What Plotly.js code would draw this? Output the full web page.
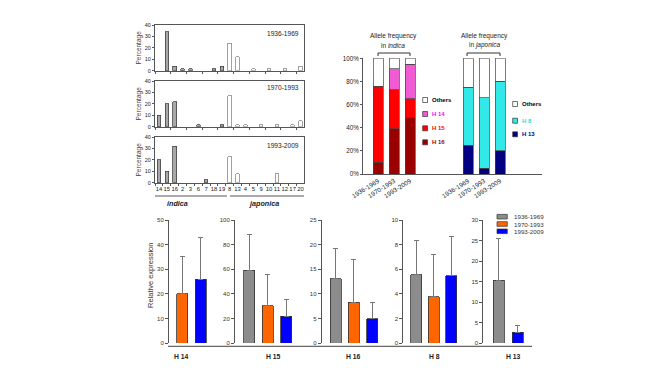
<!DOCTYPE html>
<html><head><meta charset="utf-8">
<script src="https://cdn.plot.ly/plotly-3.0.1.min.js"></script>
<style>html,body{margin:0;padding:0;background:#fff}#chart{width:661px;height:371px}</style>
</head><body><div id="chart"></div>
<script>
// ---------------- data ----------------
const haplotypes = ['14','15','16','2','3','6','7','18','19','8','13','4','5','9','10','11','12','17','20'];
const indicaCount = 9;
const pct1936 = [0,34,4,1.5,1.5,0,0,1.5,4,24,12,0,1.5,0,1.5,0,1.5,0,4];
const pct1970 = [10,20,22,0,0,1.5,0,0,1.5,27,1.5,1.5,0,1.5,0,1.5,0,1.5,5];
const pct1993 = [20,10,32,0,0,0,2.5,0,0,22.5,8,0,0,0,0,8,0,0,0];
const periods = ['1936-1969','1970-1993','1993-2009'];
const groupNames = ['indica','japonica'];

const indicaLabels = ['H 16','H 15','H 14','Others'];
const indicaH16 = [10,39,49];
const indicaH15 = [66,34,16];
const indicaH14 = [0,18,30];
const indicaOthers = [24,9,5];
const japonicaLabels = ['H 13','H 8','Others'];
const japonicaH13 = [25,5,20];
const japonicaH8 = [50,61,60];
const japonicaOthers = [25,34,20];

const exprGenes = ['H 14','H 15','H 16','H 8','H 13'];
const exprPeriods = [['1970-1993','1993-2009'], periods, periods, periods, ['1936-1969','1993-2009']];
const exprMean = [[20,26],[59,30.3,21.6],[13.1,8.3,4.9],[5.55,3.75,5.45],[15.3,2.6]];
const exprSD   = [[15.3,16.8],[29.4,25.6,13.5],[6.1,8.6,3.4],[2.75,3.45,3.2],[10.2,1.7]];
const exprMax  = [50,100,25,10,30];
const exprDtick= [10,20,5,2,5];

// ---------------- styles / geometry ----------------
const W=661,H=371;
const fx = p => p/W;
const fy = p => 1 - p/H;
const FONT = 'Liberation Sans, Arial, sans-serif';
const AX = '#555';
const periodColors = ['#8c8c8c','#ff6600','#0000ff'];
const indicaColors = ['#990000','#ff0000','#f05ad2','#ffffff'];
const indicaText = ['#990000','#ff0000','#ff00ff','#000000'];
const japonicaColors = ['#000080','#33e8e8','#ffffff'];
const japonicaText = ['#000080','#22dddd','#000000'];

const traces = [];
const layout = {
  width:W, height:H, margin:{l:0,r:0,t:0,b:0},
  paper_bgcolor:'#fff', plot_bgcolor:'rgba(0,0,0,0)',
  showlegend:false, barmode:'stack',
  font:{family:FONT, color:'#222'},
  shapes:[], annotations:[]
};
function ann(text,x,y,opts){
  layout.annotations.push(Object.assign({text:text, x:fx(x), y:fy(y), xref:'paper', yref:'paper',
    showarrow:false, font:{size:6.5,color:'#222',family:FONT}, xanchor:'center', yanchor:'middle'}, opts||{}));
}
function line(x0,y0,x1,y1,color,w){
  layout.shapes.push({type:'line', xref:'paper', yref:'paper', x0:fx(x0), y0:fy(y0), x1:fx(x1), y1:fy(y1), line:{color:color||AX, width:w||1}});
}
function rect(x0,y0,x1,y1,fill){
  layout.shapes.push({type:'rect', xref:'paper', yref:'paper', x0:fx(x0), y0:fy(y0), x1:fx(x1), y1:fy(y1), fillcolor:fill, line:{color:'#333', width:0.7}});
}
const nz = a => a.map(v => v>0 ? v : null);

// ---------------- top-left haplotype panels ----------------
const haploSeries = [pct1936, pct1970, pct1993];
const haploYDom = [[25,70.7],[81,126.7],[137,182.7]];
haploSeries.forEach((vals,k)=>{
  const n = k+1, xa = n===1?'x':'x'+n, ya = n===1?'y':'y'+n;
  traces.push({type:'bar', x:haplotypes, y:nz(vals), xaxis:xa, yaxis:ya, width:0.45, hoverinfo:'skip',
    marker:{color:haplotypes.map((h,i)=> i<indicaCount?'#a8a8a8':'#ffffff'),
            line:{color:haplotypes.map((h,i)=> i<indicaCount?'#444':'#888'), width:0.8}}});
  layout['xaxis'+(n===1?'':n)] = {domain:[fx(155),fx(303.5)], anchor:ya, type:'category',
    categoryorder:'array', categoryarray:haplotypes, range:[-0.51,18.38],
    showline:true, linecolor:AX, linewidth:1, mirror:true, ticks:'outside', tickson:'boundaries',
    ticklen:2, tickcolor:AX, showticklabels:k===2, tickangle:0, tickfont:{size:5.9,color:'#222'},
    showgrid:false, zeroline:false, fixedrange:true};
  layout['yaxis'+(n===1?'':n)] = {domain:[fy(haploYDom[k][1]), fy(haploYDom[k][0])], anchor:xa,
    range:[0,40], dtick:10, showline:true, linecolor:AX, mirror:true, ticks:'outside', ticklen:2,
    tickcolor:AX, tickfont:{size:5.5,color:'#222'}, showgrid:false, zeroline:false,
    title:{text:'Percentage', font:{size:6.5,color:'#444'}, standoff:2}};
  ann(periods[k], 301, [33.3,87.7,145.3][k], {xanchor:'right', font:{size:6.6,color:'#222',family:FONT}});
});
line(155,196,227,196,'#555',1);
line(230,196,304,196,'#555',1);
ann('<b><i>'+groupNames[0]+'</i></b>', 177, 203, {font:{size:7.2,color:'#222',family:FONT}});
ann('<b><i>'+groupNames[1]+'</i></b>', 264, 203, {font:{size:7.2,color:'#222',family:FONT}});

// ---------------- stacked allele frequency ----------------
const indicaSeries = [indicaH16, indicaH15, indicaH14, indicaOthers];
indicaSeries.forEach((vals,i)=>{
  traces.push({type:'bar', x:periods, y:nz(vals), name:indicaLabels[i], xaxis:'x4', yaxis:'y4', width:0.625,
    hoverinfo:'skip', marker:{color:indicaColors[i], line:{color:'#444', width:0.7}}});
});
const japonicaSeries = [japonicaH13, japonicaH8, japonicaOthers];
japonicaSeries.forEach((vals,i)=>{
  traces.push({type:'bar', x:periods, y:nz(vals), name:japonicaLabels[i], xaxis:'x5', yaxis:'y5', width:0.625,
    hoverinfo:'skip', marker:{color:japonicaColors[i], line:{color:'#444', width:0.7}}});
});
const stackX = {type:'category', categoryorder:'array', categoryarray:periods, showline:true, linecolor:AX,
  linewidth:1, ticks:'', tickangle:-32, tickfont:{size:6.4,color:'#222'}, showgrid:false, zeroline:false};
layout.xaxis4 = Object.assign({}, stackX, {domain:[fx(363),fx(418)], anchor:'y4', range:[-0.94,2.5]});
layout.xaxis5 = Object.assign({}, stackX, {domain:[fx(418),fx(542)], anchor:'y5', range:[-3.125,4.625]});
layout.yaxis4 = {domain:[fy(174),fy(58.3)], anchor:'x4', range:[0,100], dtick:20, ticksuffix:'%',
  showline:true, linecolor:AX, ticks:'outside', ticklen:2, tickcolor:AX, tickfont:{size:6.3,color:'#222'},
  showgrid:false, zeroline:false};
layout.yaxis5 = {domain:[fy(174),fy(58.3)], anchor:'x5', range:[0,100], visible:false};

ann('Allele frequency', 393, 36);
ann('in <i>indica</i>', 393, 45);
ann('Allele frequency', 484, 36);
ann('in <i>japonica</i>', 484, 45);
layout.shapes.push({type:'path', xref:'paper', yref:'paper', line:{color:'#333',width:1},
  path:`M ${fx(378)} ${fy(56)} L ${fx(378)} ${fy(53)} L ${fx(410)} ${fy(53)} L ${fx(410)} ${fy(56)}`});
layout.shapes.push({type:'path', xref:'paper', yref:'paper', line:{color:'#333',width:1},
  path:`M ${fx(467)} ${fy(56)} L ${fx(467)} ${fy(53)} L ${fx(500)} ${fy(53)} L ${fx(500)} ${fy(56)}`});

// legends (top to bottom = reversed stack)
[3,2,1,0].forEach((i,j)=>{
  const yc = [100,114,128.3,142.3][j];
  rect(422.7, yc-2.5, 427.5, yc+2.5, indicaColors[i]);
  ann('<b>'+indicaLabels[i]+'</b>', 430, yc, {xanchor:'left', font:{size:6,color:indicaText[i],family:FONT}});
});
[2,1,0].forEach((i,j)=>{
  const yc = [104,120.7,134.3][j];
  rect(512.7, yc-2.5, 517.5, yc+2.5, japonicaColors[i]);
  ann('<b>'+japonicaLabels[i]+'</b>', 520, yc, {xanchor:'left', font:{size:6,color:japonicaText[i],family:FONT}});
});

// ---------------- relative expression panels ----------------
const exprAxisPx = [169,235,321.7,403.3,483.3];
const exprFirstPx = [182,249,335.5,416.5,499];
const exprStep = [18.5,18.5,18.25,17.4,19];
const exprEndPx = [226,305,392,472,535];
const exprLabelPx = [181,273,353,434,513];
exprGenes.forEach((g,k)=>{
  const n = 6+k;
  traces.push({type:'bar', x:exprPeriods[k], y:exprMean[k], xaxis:'x'+n, yaxis:'y'+n, hoverinfo:'skip',
    width:11/exprStep[k],
    marker:{color:exprPeriods[k].map(p=>periodColors[periods.indexOf(p)]), line:{color:'#333',width:0.8}},
    error_y:{type:'data', symmetric:false, array:exprSD[k], arrayminus:exprSD[k].map(()=>0),
      color:'#777', thickness:1, width:2.5}});
  const s = exprStep[k];
  layout['xaxis'+n] = {domain:[fx(exprAxisPx[k]), fx(exprEndPx[k])], anchor:'y'+n, type:'category',
    categoryorder:'array', categoryarray:exprPeriods[k],
    range:[-(exprFirstPx[k]-exprAxisPx[k])/s, (exprEndPx[k]-exprFirstPx[k])/s],
    showline:false, showticklabels:false, ticks:'', showgrid:false, zeroline:false};
  layout['yaxis'+n] = {domain:[fy(343), fy(220)], anchor:'x'+n, range:[0,exprMax[k]], dtick:exprDtick[k],
    showline:true, linecolor:AX, ticks:'outside', ticklen:3, tickcolor:AX,
    tickfont:{size:6,color:'#333'}, showgrid:false, zeroline:false};
  ann('<b>'+g+'</b>', exprLabelPx[k], 356, {font:{size:6.8,color:'#222',family:FONT}});
});
line(168,346.3,532,346.3,'#666',1.2);
ann('Relative expression', 150, 276, {textangle:-90, font:{size:7.5,color:'#333',family:FONT}});
periods.forEach((p,i)=>{
  const yc = [216.7,224,231.3][i];
  rect(497, yc-2.3, 507.3, yc+2.3, periodColors[i]);
  ann(p, 512, yc, {xanchor:'left', font:{size:6.2,color:'#333',family:FONT}});
});

Plotly.newPlot('chart', traces, layout, {staticPlot:true, displayModeBar:false});
</script></body></html>
